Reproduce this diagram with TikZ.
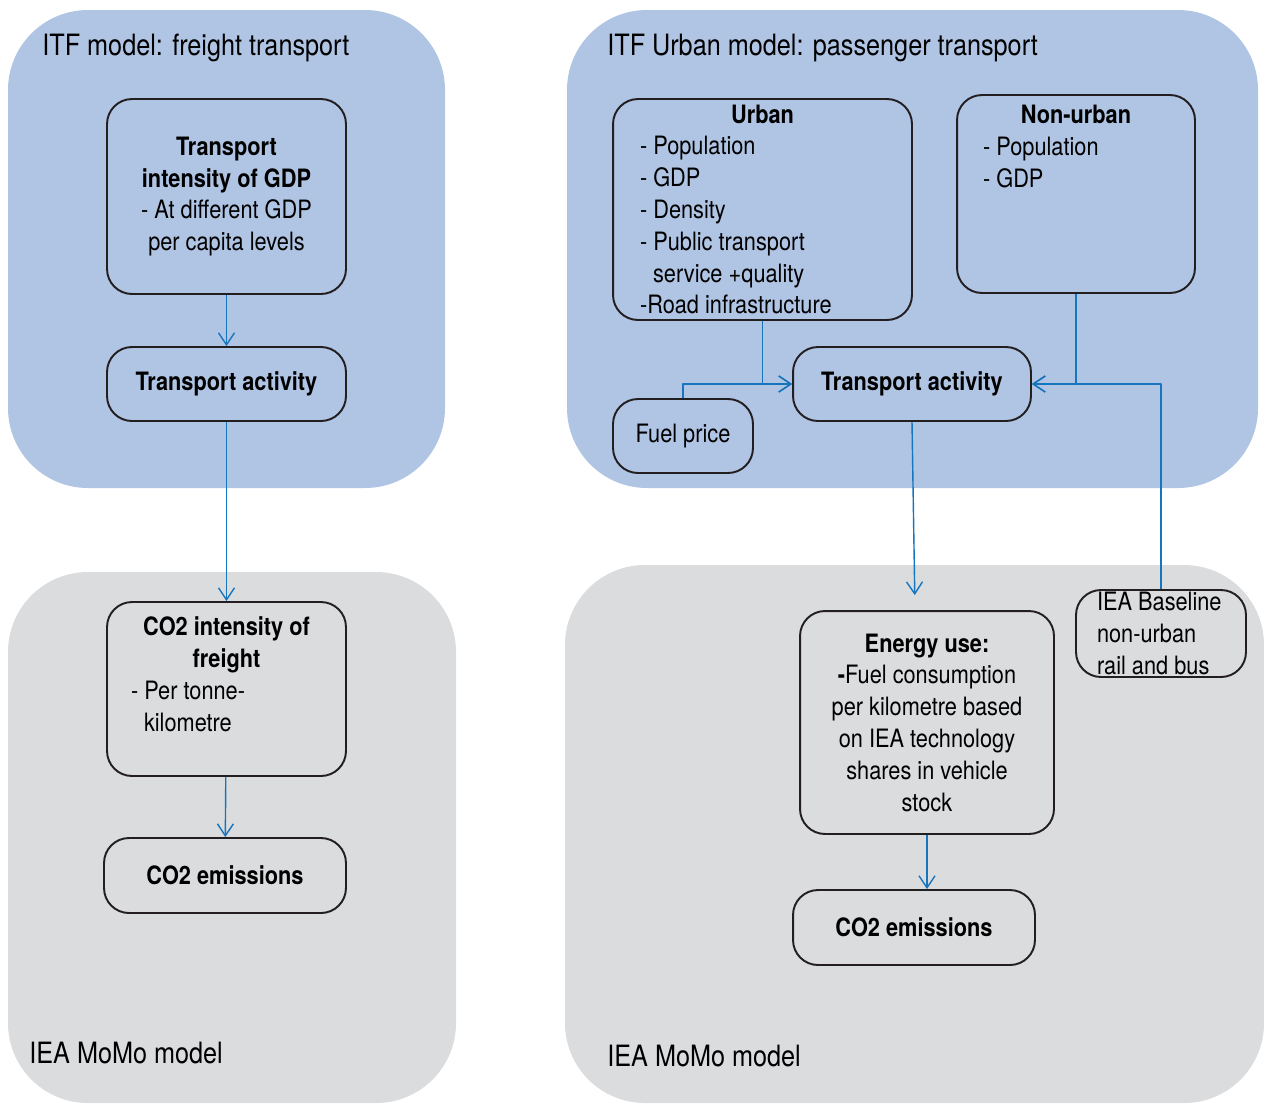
\documentclass[tikz,border=0pt]{standalone}
\usepackage{fontspec}
\setmainfont{TeX Gyre Heros}[FakeStretch=0.86]
\usetikzlibrary{arrows.meta,positioning}
\definecolor{itfblue}{RGB}{176,196,228}
\definecolor{momogrey}{RGB}{219,220,222}
\definecolor{linkblue}{RGB}{23,117,189}
\definecolor{edgegrey}{RGB}{35,31,32}
\tikzset{
  panel/.style={rounded corners=1.6cm},
  box/.style={draw=edgegrey,line width=1.1pt,rounded corners=0.5cm,inner sep=0pt},
  link/.style={draw=linkblue,line width=0.8pt,-{Straight Barb[length=2.4mm,width=3.2mm]}},
  boxfont/.style={font=\fontsize{14.4}{18.1}\selectfont},
  headfont/.style={font=\fontsize{16.7}{20}\selectfont,anchor=west,inner sep=0pt}
}
\begin{document}
\begin{tikzpicture}[x=0.02cm,y=-0.02cm,line join=round,boxfont]
			\useasboundingbox (0,0) rectangle (1264,1103);
			\fill[itfblue,panel] (8,10) rectangle (445,488);
			\fill[itfblue,panel] (567,10) rectangle (1258,488);
			\fill[momogrey,panel] (8,572) rectangle (456,1103);
			\fill[momogrey,panel] (565,565) rectangle (1264,1103);
			\node[headfont] (ftitle) at (42,48) {ITF model: freight transport};
			\node[headfont] (ptitle) at (607,48) {ITF Urban model: passenger transport};
			\node[headfont] (fmomo) at (29,1053) {IEA MoMo model};
			\node[headfont] (pmomo) at (607,1056) {IEA MoMo model};
			% freight
			\node[box,minimum width=4.78cm,minimum height=3.9cm,align=center] (gdp) at (226.5,196.5) {\textbf{Transport}\\\textbf{intensity of GDP}\\- At different GDP\\per capita levels};
			\node[box,minimum width=4.78cm,minimum height=1.48cm] (fact) at (226.5,384) {\textbf{Transport activity}};
			\node[box,minimum width=4.78cm,minimum height=3.48cm] (cint) at (226.5,689) {\parbox[c][2.88cm][t]{3.82cm}{\centering\textbf{CO2 intensity of\\freight}\par\raggedright - Per tonne-\\\hspace*{0.26cm}kilometre}};
			\node[box,minimum width=4.84cm,minimum height=1.5cm] (fem) at (225,875.5) {\textbf{CO2 emissions}};
			% passenger
			\node[box,minimum width=5.98cm,minimum height=4.42cm] (urban) at (762.5,209.5) {\parbox{4.9cm}{\centering\textbf{Urban}\par\raggedright - Population\\- GDP\\- Density\\- Public transport\\\hspace*{0.26cm}service +quality\\-Road infrastructure}};
			\node[box,minimum width=4.76cm,minimum height=3.96cm] (nonurb) at (1076,194) {\parbox[c][3.56cm][t]{3.72cm}{\centering\textbf{Non-urban}\par\raggedright - Population\\- GDP}};
			\node[box,minimum width=4.76cm,minimum height=1.48cm] (pact) at (912,384) {\textbf{Transport activity}};
			\node[box,minimum width=2.8cm,minimum height=1.48cm] (fuel) at (683,436) {Fuel price};
			\node[box,minimum width=5.08cm,minimum height=4.46cm,align=center] (energy) at (927,722.5) {\textbf{Energy use:}\\\textbf{-}Fuel consumption\\per kilometre based\\on IEA technology\\shares in vehicle\\stock};
			\node[box,minimum width=4.84cm,minimum height=1.5cm] (pem) at (914,927.5) {\textbf{CO2 emissions}};
			\node[box,minimum width=3.4cm,minimum height=1.74cm] (base) at (1161,633.5) {\parbox{2.56cm}{IEA Baseline\\non-urban\\rail and bus}};
			\draw[link] (gdp) -- (fact);
			\draw[link] (fact) -- (cint);
			\draw[link] (cint) -- (fem);
			\draw[link] (urban.south) |- (pact.west);
			\draw[link] (fuel.north) |- (pact.west);
			\draw[link] (nonurb.south) |- (pact.east);
			\draw[link] (base.north) |- (pact.east);
			\draw[link,shorten >=0.3cm] (pact.south) -- ([xshift=-0.24cm]energy.north);
			\draw[link] (energy.south) -- (energy.south |- pem.north);
		\end{tikzpicture}
\end{document}
